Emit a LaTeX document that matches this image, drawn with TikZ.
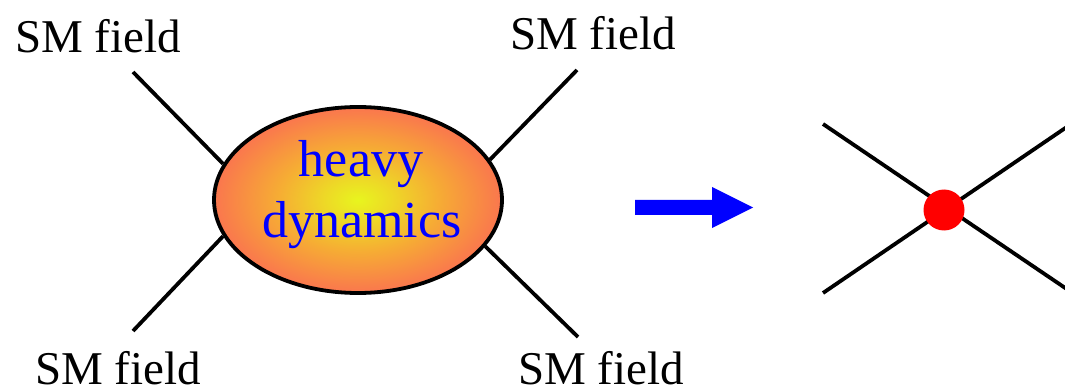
\documentclass[tikz,border=0pt]{standalone}
\usepackage{fontspec}
\setmainfont{Liberation Serif}
\usetikzlibrary{shapes.geometric}
\definecolor{blobY}{RGB}{232,245,30}
\definecolor{blobO}{RGB}{246,172,52}
\definecolor{blobR}{RGB}{250,118,78}
\pgfdeclareradialshading{heavyshade}{\pgfpoint{0bp}{0bp}}{color(0bp)=(blobY); color(6bp)=(blobY!60!blobO); color(14bp)=(blobO); color(25bp)=(blobR); color(50bp)=(blobR)}
\tikzset{
  leg/.style={line width=3.8pt, black},
  smlabel/.style={anchor=base west, inner sep=0pt, font=\fontsize{47}{56}\selectfont},
  heavytext/.style={anchor=base, inner sep=0pt, text=blue, font=\fontsize{52}{60}\selectfont},
  blobstyle/.style={ellipse, draw=black, line width=3.8pt, shading=heavyshade, minimum width=288pt, minimum height=186pt, inner sep=0pt},
}
\begin{document}
\begin{tikzpicture}[x=1pt,y=-1pt]
\useasboundingbox (0,0) rectangle (1065,390);
\begin{scope}
\clip (0,0) rectangle (1065,390);
% left diagram
\node[blobstyle] (blob) at (358,200) {};
\coordinate (ul) at (133,72);
\coordinate (ll) at (133,331);
\coordinate (ur) at (577,70);
\coordinate (lr) at (578,337);
\draw[leg] (ul) -- (blob.165);
\draw[leg] (ll) -- (blob.195);
\draw[leg] (ur) -- (blob.17);
\draw[leg] (lr) -- (blob.-20);
\node[heavytext] (t1) at (361,177) {heavy};
\node[heavytext] (t2) at (362,237) {dynamics};
\node[smlabel] (s1) at (15,53) {SM field};
\node[smlabel] (s2) at (510,50) {SM field};
\node[smlabel] (s3) at (35,384) {SM field};
\node[smlabel] (s4) at (518,384) {SM field};
% arrow
\fill[blue] (635,200) -- (712,200) -- (712,187) -- (753,207.5) -- (712,228) -- (712,215) -- (635,215) -- cycle;
% right diagram
\coordinate (b1) at (823,124);
\coordinate (b2) at (823,293);
\coordinate (b3) at (1080,118);
\coordinate (b4) at (1080,298);
\draw[leg] (b1) -- (b4);
\draw[leg] (b2) -- (b3);
\node[circle, fill=red, minimum size=41pt, inner sep=0pt] (dot) at (944,210) {};
\end{scope}
\end{tikzpicture}
\end{document}
